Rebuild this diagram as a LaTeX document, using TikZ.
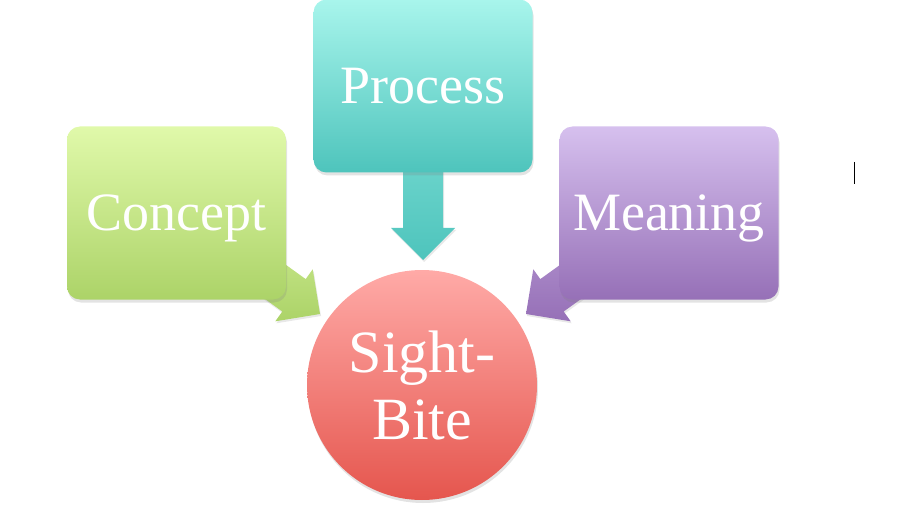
\documentclass[tikz,border=0pt]{standalone}
\usepackage{fontspec}
\setmainfont{Liberation Serif}
\usetikzlibrary{shadows}
\definecolor{gTop}{RGB}{224,249,170}
\definecolor{gBot}{RGB}{172,211,104}
\definecolor{tTop}{RGB}{168,245,236}
\definecolor{tBot}{RGB}{78,196,188}
\definecolor{pTop}{RGB}{214,192,238}
\definecolor{pBot}{RGB}{150,112,183}
\definecolor{rTop}{RGB}{255,170,167}
\definecolor{rBot}{RGB}{229,86,78}
\begin{document}
\begin{tikzpicture}[x=1pt,y=-1pt,
  boxnode/.style={rounded corners=13pt, minimum width=219pt, minimum height=173pt,
    inner sep=0pt, text=white, font=\fontsize{54}{60}\selectfont,
    text height=36pt, text depth=0pt,
    drop shadow={shadow xshift=1pt,shadow yshift=-3pt,opacity=0.22}},
  blockarrow/.style={draw=none,
    drop shadow={shadow xshift=1pt,shadow yshift=-2pt,opacity=0.18}},
  hubnode/.style={circle, minimum size=230pt, inner sep=0pt, text=white,
    align=center, font=\fontsize{60}{67}\selectfont,
    top color=rTop, bottom color=rBot,
    drop shadow={shadow xshift=1pt,shadow yshift=-3pt,opacity=0.22}}
]
\useasboundingbox (0,0) rectangle (906,532);
% block arrows (behind boxes)
\path[blockarrow, top color=gTop!60!gBot, bottom color=gBot]
  (209.3,258.9) -- (282.3,311.5) -- (275.3,321.3) -- (320,314) -- (312.7,269.3)
  -- (305.7,279.1) -- (232.7,226.5) -- cycle;
\path[blockarrow, top color=tTop!40!tBot, bottom color=tBot]
  (403,140) -- (403,228) -- (391,228) -- (423,260) -- (455,228) -- (443,228)
  -- (443,140) -- cycle;
\path[blockarrow, top color=pTop!45!pBot, bottom color=pBot]
  (636.7,258.9) -- (563.7,311.5) -- (570.7,321.3) -- (526,314) -- (533.3,269.3)
  -- (540.3,279.1) -- (613.3,226.5) -- cycle;
% boxes
\node[boxnode, top color=gTop, bottom color=gBot] (concept) at (176.5,213) {Concept};
\node[boxnode, top color=tTop, bottom color=tBot] (process) at (423,86) {Process};
\node[boxnode, top color=pTop, bottom color=pBot] (meaning) at (669,213) {Meaning};
% hub
\node[hubnode] (hub) at (422,385) {Sight-\\Bite};
% cursor mark
\coordinate (c1) at (854.5,162);
\coordinate (c2) at (854.5,184);
\draw[line width=1.5pt] (c1) -- (c2);
\end{tikzpicture}
\end{document}
